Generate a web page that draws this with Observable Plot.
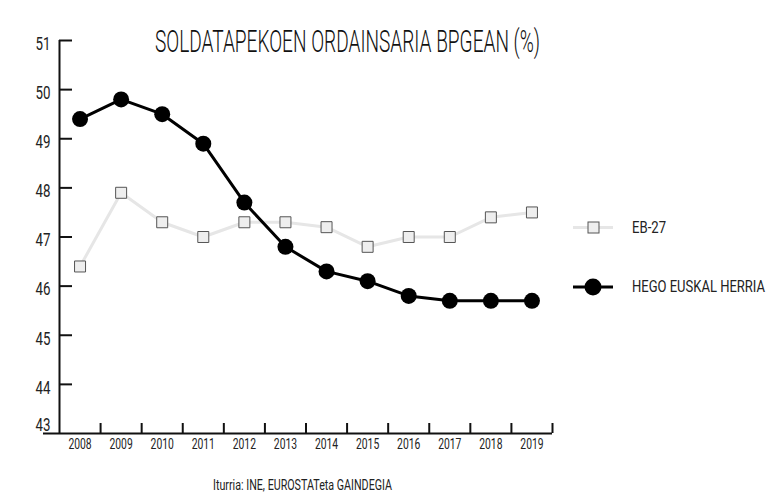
<!DOCTYPE html>
<html>
<head>
<meta charset="utf-8">
<script src="https://cdn.jsdelivr.net/npm/d3@7"></script>
<script src="https://cdn.jsdelivr.net/npm/@observablehq/plot@0.6"></script>
<style>
  html, body { margin: 0; padding: 0; background: #fff; }
  #wrap { position: relative; width: 783px; height: 497px; overflow: hidden; font-family: Roboto, "Noto Sans", sans-serif; color: #111; }
  #chart { position: absolute; left: 0; top: 0; }
  .txt { position: absolute; white-space: nowrap; line-height: 1; display: inline-block; transform-origin: 0 50%; }
  #title { left: 155px; top: 26px; font-size: 31px; font-weight: 300; color: #111; }
  #caption { left: 213px; top: 478px; font-size: 14px; color: #222; }
  .legtxt { left: 632px; font-size: 17px; color: #222; }
  #legsvg { position: absolute; left: 0; top: 0; pointer-events: none; }
</style>
</head>
<body>
<div id="wrap">
  <div id="chart"></div>
  <svg id="legsvg" width="783" height="497">
    <line x1="573" x2="613" y1="227.5" y2="227.5" stroke="#e6e6e6" stroke-width="3"/>
    <rect x="588" y="222" width="11" height="11" fill="#eeeeee" stroke="#555" stroke-width="1"/>
    <line x1="573" x2="613" y1="287" y2="287" stroke="#000" stroke-width="3"/>
    <circle cx="593" cy="287" r="8.5" fill="#000"/>
  </svg>
  <div id="title" class="txt" data-w="385">SOLDATAPEKOEN ORDAINSARIA BPGEAN (%)</div>
  <div class="txt legtxt" style="top:219px" data-w="34">EB-27</div>
  <div class="txt legtxt" style="top:278px" data-w="133">HEGO EUSKAL HERRIA</div>
  <div id="caption" class="txt" data-w="179">Iturria: INE, EUROSTATeta GAINDEGIA</div>
</div>
<script>
const years = [2008, 2009, 2010, 2011, 2012, 2013, 2014, 2015, 2016, 2017, 2018, 2019];
const hegoEuskalHerria = [49.4, 49.8, 49.5, 48.9, 47.7, 46.8, 46.3, 46.1, 45.8, 45.7, 45.7, 45.7];
const eb27 = [46.4, 47.9, 47.3, 47.0, 47.3, 47.3, 47.2, 46.8, 47.0, 47.0, 47.4, 47.5];
const yTicks = [43, 44, 45, 46, 47, 48, 49, 50, 51];
const xTickLabels = years.map(String);
const xBounds = years.map(y => y + 0.5);

const hego = years.map((year, i) => ({year, value: hegoEuskalHerria[i]}));
const eb = years.map((year, i) => ({year, value: eb27[i]}));

const plot = Plot.plot({
  width: 783,
  height: 497,
  marginLeft: 59,
  marginRight: 231,
  marginTop: 40,
  marginBottom: 64,
  style: {fontFamily: "Roboto, 'Noto Sans', sans-serif", color: "#111", background: "transparent"},
  x: {domain: [2007.5, 2019.5], axis: null},
  y: {domain: [43, 51], axis: null},
  marks: [
    Plot.ruleX([2007.5], {stroke: "#111", strokeWidth: 2}),
    Plot.ruleY([43], {stroke: "#111", strokeWidth: 2, insetLeft: -16}),
    Plot.tickY(yTicks.filter(d => d > 43), {y: d => d, stroke: "#111", strokeWidth: 2, insetRight: 480}),
    Plot.tickX(xBounds, {x: d => d, stroke: "#111", strokeWidth: 2, insetTop: 383}),
    Plot.text(yTicks.filter(d => d > 43), {y: d => d, text: d => String(d), frameAnchor: "left", textAnchor: "end", dx: -9, dy: 3.5, fontSize: 18, fill: "#222"}),
    Plot.text(yTicks.filter(d => d === 43), {y: d => d, text: d => String(d), frameAnchor: "left", textAnchor: "end", dx: -9, dy: -8.5, fontSize: 18, fill: "#222"}),
    Plot.text(years, {x: d => d, text: (d, i) => xTickLabels[i], frameAnchor: "bottom", dy: 15, fontSize: 14, fill: "#222"}),
    Plot.line(eb, {x: "year", y: "value", stroke: "#e6e6e6", strokeWidth: 3}),
    Plot.dot(eb, {x: "year", y: "value", symbol: "square", r: 6.2, fill: "#eeeeee", stroke: "#555", strokeWidth: 1}),
    Plot.line(hego, {x: "year", y: "value", stroke: "#000", strokeWidth: 3}),
    Plot.dot(hego, {x: "year", y: "value", r: 8, fill: "#000", stroke: "none"})
  ]
});
document.getElementById("chart").appendChild(plot);

// condense SVG text horizontally around its anchor (the reference uses a condensed face)
const S = 0.74;
plot.querySelectorAll("text").forEach(el => {
  const t = el.getAttribute("transform") || "";
  const x = el.getAttribute("x");
  if (x != null && x !== "") {
    el.setAttribute("transform", `${t} translate(${x},0) scale(${S},1) translate(${-x},0)`);
  } else {
    el.setAttribute("transform", `${t} scale(${S},1)`);
  }
});
// condense HTML texts to the reference widths
document.querySelectorAll(".txt").forEach(el => {
  const target = +el.dataset.w;
  const w = el.getBoundingClientRect().width;
  if (w > 0) el.style.transform = `scaleX(${target / w})`;
});
</script>
</body>
</html>
